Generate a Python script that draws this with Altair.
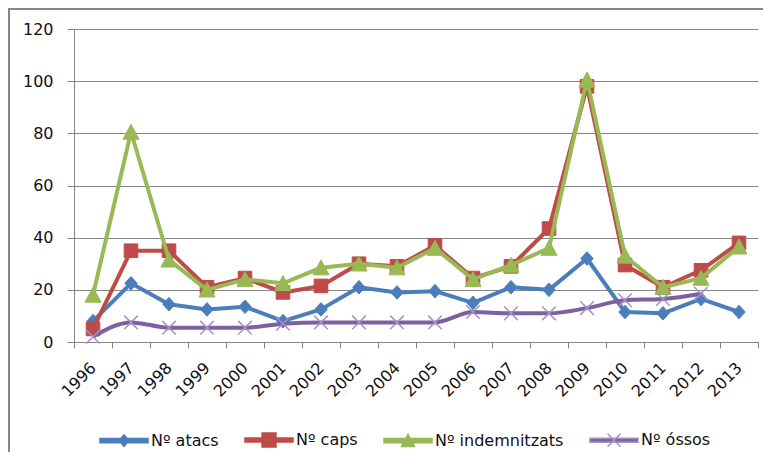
import altair as alt
import pandas as pd

years = [str(y) for y in range(1996, 2014)]
series = ["Nº atacs", "Nº caps", "Nº indemnitzats", "Nº óssos"]

atacs = [8, 22.5, 14.5, 12.5, 13.5, 8, 12.5, 21, 19, 19.5, 15, 21, 20, 32, 11.5, 11, 16.5, 11.5]
caps = [5, 35, 35, 21, 24.5, 19, 21.5, 30, 29, 37, 24.5, 29, 43.5, 98, 29.5, 21, 27.5, 38]
indemnitzats = [18, 80.5, 31.5, 20, 24, 22.5, 28.5, 30, 28.5, 36, 24, 29.5, 36, 100.5, 33, 21, 24.5, 36.5]
ossos = [2, 7.5, 5.5, 5.5, 5.5, 7, 7.5, 7.5, 7.5, 7.5, 11.5, 11, 11, 13, 16, 16.5, 18.5, None]

line_colors = ["#4A7EBB", "#BE4B48", "#98B954", "#7D60A0"]
stroke_colors = ["#4A7EBB", "#BE4B48", "#98B954", "#A592C4"]
interp = ["linear", "linear", "linear", "monotone"]

marker_paths = [
    "M0,-0.68L0.62,0L0,0.68L-0.62,0Z",
    "M-0.68,-0.68L0.68,-0.68L0.68,0.68L-0.68,0.68Z",
    "M0,-0.78L0.8,0.72L-0.8,0.72Z",
    "M-0.68,-0.68L0.68,0.68M-0.68,0.68L0.68,-0.68",
]
bar = "M-1,-0.085L1,-0.085L1,0.085L-1,0.085Z"
legend_paths = [
    bar + "M0,-0.24L0.2,0L0,0.24L-0.2,0Z",
    bar + "M-0.29,-0.29L0.29,-0.29L0.29,0.29L-0.29,0.29Z",
    bar + "M0,-0.26L0.27,0.24L-0.27,0.24Z",
    bar + "M-0.27,-0.27L0.27,0.27M-0.27,0.27L0.27,-0.27",
]

rows = []
for s, vals in zip(series, [atacs, caps, indemnitzats, ossos]):
    for y, v in zip(years, vals):
        rows.append({"year": y, "serie": s, "value": v})
df = pd.DataFrame(rows)

FONT = "DejaVu Sans"
GRAY = "#868686"

x_enc = alt.X(
    "year:N",
    sort=years,
    bandPosition=0.5,
    scale=alt.Scale(type="band", paddingInner=0, paddingOuter=0),
    axis=alt.Axis(
        title=None, grid=False, tickBand="extent", labelAngle=-45,
        labelAlign="right", labelBaseline="middle", labelPadding=17,
        tickSize=6, tickColor=GRAY, domainColor=GRAY,
        labelFont=FONT, labelFontSize=16, labelColor="#111111",
    ),
)
y_enc = alt.Y(
    "value:Q",
    scale=alt.Scale(domain=[0, 120], nice=False),
    axis=alt.Axis(
        title=None, values=[0, 20, 40, 60, 80, 100, 120], grid=True,
        gridColor=GRAY, gridOpacity=1, tickSize=7, tickColor=GRAY,
        domainColor=GRAY, labelPadding=14, labelFont=FONT,
        labelFontSize=16, labelColor="#111111",
    ),
)

base = alt.Chart(df)
layers = []
for i, s in enumerate(series):
    sub = base.transform_filter(alt.datum.serie == s)
    layers.append(
        sub.mark_line(color=line_colors[i], strokeWidth=4, interpolate=interp[i],
                      strokeJoin="round").encode(x=x_enc, y=y_enc)
    )
    layers.append(
        sub.mark_point(shape=marker_paths[i], size=400, filled=True,
                       fill=line_colors[i], stroke=stroke_colors[i],
                       strokeWidth=1.5 if i == 3 else 1, opacity=1)
        .encode(x=x_enc, y=y_enc)
    )

leg = alt.Legend(
    title=None, orient="none", legendX=25, legendY=386, direction="horizontal",
    columns=4, symbolSize=2304, symbolStrokeWidth=1.5, labelOffset=2,
    columnPadding=23, labelFont=FONT, labelFontSize=16, labelColor="#111111",
    padding=0, symbolOpacity=1,
)
legend_layer = base.mark_point(filled=True, size=2304, strokeWidth=1.5, clip=True).encode(
    x=alt.value(0),
    y=alt.value(-2000),
    fill=alt.Fill("serie:N", scale=alt.Scale(domain=series, range=line_colors), legend=leg),
    stroke=alt.Stroke("serie:N", scale=alt.Scale(domain=series, range=stroke_colors), legend=leg),
    shape=alt.Shape("serie:N", scale=alt.Scale(domain=series, range=legend_paths), legend=leg),
)

frame_top = base.mark_rule(color=GRAY, strokeWidth=1.5).encode(
    x=alt.value(-66), x2=alt.value(800), y=alt.value(-20.5)
)
frame_left = base.mark_rule(color=GRAY, strokeWidth=1.5).encode(
    x=alt.value(-65.5), y=alt.value(-22), y2=alt.value(600)
)

chart = (
    alt.layer(*layers, legend_layer, frame_top, frame_left)
    .properties(
        width=684, height=313,
        autosize=alt.AutoSizeParams(type="none"),
        padding={"left": 66, "top": 21, "right": 5, "bottom": 110},
        background="white",
    )
    .configure_view(stroke=None)
)

chart.save("out.html", embed_options={"renderer": "svg", "actions": False})
